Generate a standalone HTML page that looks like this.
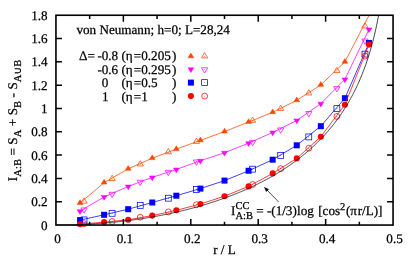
<!DOCTYPE html>
<html><head><meta charset="utf-8"><title>chart</title>
<style>
html,body{margin:0;padding:0;background:#fff;}
body{width:409px;height:257px;overflow:hidden;}
svg{display:block;}
text{font-family:"Liberation Serif",serif;font-size:13.15px;fill:#000;stroke:#000;stroke-width:0.25px;text-rendering:geometricPrecision;}
.sub{font-size:10.52px;}
#wrap{width:409px;height:257px;will-change:transform;background:#fff;}
</style></head><body>
<div id="wrap">
<svg width="409" height="257" viewBox="0 0 409 257">
<rect x="0" y="0" width="409" height="257" fill="#fff"/>
<defs><clipPath id="cp"><rect x="55.95" y="15.25" width="337.1" height="209.8"/></clipPath></defs>

<polyline clip-path="url(#cp)" points="80.03,203.05 104.11,182.65 128.19,168.85 152.26,158.15 176.34,149.15 200.42,140.35 224.50,131.55 248.58,122.05 272.66,112.25 296.74,100.30 320.81,84.90 344.89,61.85 368.97,15.45" fill="none" stroke="#ff4500" stroke-width="0.75" stroke-linejoin="round"/>
<polygon points="77.13,204.50 82.93,204.50 80.03,199.75" fill="#ff4500" stroke="#ff4500" stroke-width="0.5" stroke-linejoin="miter"/>
<polygon points="101.21,184.10 107.01,184.10 104.11,179.35" fill="#ff4500" stroke="#ff4500" stroke-width="0.5" stroke-linejoin="miter"/>
<polygon points="125.29,170.30 131.09,170.30 128.19,165.55" fill="#ff4500" stroke="#ff4500" stroke-width="0.5" stroke-linejoin="miter"/>
<polygon points="149.36,159.60 155.16,159.60 152.26,154.85" fill="#ff4500" stroke="#ff4500" stroke-width="0.5" stroke-linejoin="miter"/>
<polygon points="173.44,150.60 179.24,150.60 176.34,145.85" fill="#ff4500" stroke="#ff4500" stroke-width="0.5" stroke-linejoin="miter"/>
<polygon points="197.52,141.80 203.32,141.80 200.42,137.05" fill="#ff4500" stroke="#ff4500" stroke-width="0.5" stroke-linejoin="miter"/>
<polygon points="221.60,133.00 227.40,133.00 224.50,128.25" fill="#ff4500" stroke="#ff4500" stroke-width="0.5" stroke-linejoin="miter"/>
<polygon points="245.68,123.50 251.48,123.50 248.58,118.75" fill="#ff4500" stroke="#ff4500" stroke-width="0.5" stroke-linejoin="miter"/>
<polygon points="269.76,113.70 275.56,113.70 272.66,108.95" fill="#ff4500" stroke="#ff4500" stroke-width="0.5" stroke-linejoin="miter"/>
<polygon points="293.84,101.75 299.64,101.75 296.74,97.00" fill="#ff4500" stroke="#ff4500" stroke-width="0.5" stroke-linejoin="miter"/>
<polygon points="317.91,86.35 323.71,86.35 320.81,81.60" fill="#ff4500" stroke="#ff4500" stroke-width="0.5" stroke-linejoin="miter"/>
<polygon points="341.99,63.30 347.79,63.30 344.89,58.55" fill="#ff4500" stroke="#ff4500" stroke-width="0.5" stroke-linejoin="miter"/>
<polygon points="80.89,203.15 87.19,203.15 84.04,197.90" fill="none" stroke="#ff4500" stroke-width="0.75"/><circle cx="84.04" cy="201.65" r="0.45" fill="#ff4500"/>
<polygon points="108.98,180.45 115.28,180.45 112.13,175.20" fill="none" stroke="#ff4500" stroke-width="0.75"/><circle cx="112.13" cy="178.95" r="0.45" fill="#ff4500"/>
<polygon points="137.08,165.95 143.38,165.95 140.23,160.70" fill="none" stroke="#ff4500" stroke-width="0.75"/><circle cx="140.23" cy="164.45" r="0.45" fill="#ff4500"/>
<polygon points="165.17,153.75 171.47,153.75 168.32,148.50" fill="none" stroke="#ff4500" stroke-width="0.75"/><circle cx="168.32" cy="152.25" r="0.45" fill="#ff4500"/>
<polygon points="193.26,143.40 199.56,143.40 196.41,138.15" fill="none" stroke="#ff4500" stroke-width="0.75"/><circle cx="196.41" cy="141.90" r="0.45" fill="#ff4500"/>
<polygon points="249.44,122.30 255.74,122.30 252.59,117.05" fill="none" stroke="#ff4500" stroke-width="0.75"/><circle cx="252.59" cy="120.80" r="0.45" fill="#ff4500"/>
<polygon points="277.53,110.45 283.83,110.45 280.68,105.20" fill="none" stroke="#ff4500" stroke-width="0.75"/><circle cx="280.68" cy="108.95" r="0.45" fill="#ff4500"/>
<polygon points="305.63,94.95 311.93,94.95 308.78,89.70" fill="none" stroke="#ff4500" stroke-width="0.75"/><circle cx="308.78" cy="93.45" r="0.45" fill="#ff4500"/>
<polygon points="333.72,72.55 340.02,72.55 336.87,67.30" fill="none" stroke="#ff4500" stroke-width="0.75"/><circle cx="336.87" cy="71.05" r="0.45" fill="#ff4500"/>
<polygon points="361.81,27.95 368.11,27.95 364.96,22.70" fill="none" stroke="#ff4500" stroke-width="0.75"/><circle cx="364.96" cy="26.45" r="0.45" fill="#ff4500"/>
<polyline clip-path="url(#cp)" points="80.03,211.15 104.11,196.95 128.19,186.45 152.26,177.35 176.34,169.45 200.42,160.70 224.50,152.75 248.58,143.10 272.66,132.45 296.74,120.45 320.81,103.65 344.89,79.35 368.97,29.35" fill="none" stroke="#ff00ff" stroke-width="0.75" stroke-linejoin="round"/>
<polygon points="77.13,209.70 82.93,209.70 80.03,214.45" fill="#ff00ff" stroke="#ff00ff" stroke-width="0.5" stroke-linejoin="miter"/>
<polygon points="101.21,195.50 107.01,195.50 104.11,200.25" fill="#ff00ff" stroke="#ff00ff" stroke-width="0.5" stroke-linejoin="miter"/>
<polygon points="125.29,185.00 131.09,185.00 128.19,189.75" fill="#ff00ff" stroke="#ff00ff" stroke-width="0.5" stroke-linejoin="miter"/>
<polygon points="149.36,175.90 155.16,175.90 152.26,180.65" fill="#ff00ff" stroke="#ff00ff" stroke-width="0.5" stroke-linejoin="miter"/>
<polygon points="173.44,168.00 179.24,168.00 176.34,172.75" fill="#ff00ff" stroke="#ff00ff" stroke-width="0.5" stroke-linejoin="miter"/>
<polygon points="197.52,159.25 203.32,159.25 200.42,164.00" fill="#ff00ff" stroke="#ff00ff" stroke-width="0.5" stroke-linejoin="miter"/>
<polygon points="221.60,151.30 227.40,151.30 224.50,156.05" fill="#ff00ff" stroke="#ff00ff" stroke-width="0.5" stroke-linejoin="miter"/>
<polygon points="245.68,141.65 251.48,141.65 248.58,146.40" fill="#ff00ff" stroke="#ff00ff" stroke-width="0.5" stroke-linejoin="miter"/>
<polygon points="269.76,131.00 275.56,131.00 272.66,135.75" fill="#ff00ff" stroke="#ff00ff" stroke-width="0.5" stroke-linejoin="miter"/>
<polygon points="293.84,119.00 299.64,119.00 296.74,123.75" fill="#ff00ff" stroke="#ff00ff" stroke-width="0.5" stroke-linejoin="miter"/>
<polygon points="317.91,102.20 323.71,102.20 320.81,106.95" fill="#ff00ff" stroke="#ff00ff" stroke-width="0.5" stroke-linejoin="miter"/>
<polygon points="341.99,77.90 347.79,77.90 344.89,82.65" fill="#ff00ff" stroke="#ff00ff" stroke-width="0.5" stroke-linejoin="miter"/>
<polygon points="366.07,27.90 371.87,27.90 368.97,32.65" fill="#ff00ff" stroke="#ff00ff" stroke-width="0.5" stroke-linejoin="miter"/>
<polygon points="80.89,207.95 87.19,207.95 84.04,213.20" fill="none" stroke="#ff00ff" stroke-width="0.75"/><circle cx="84.04" cy="209.45" r="0.45" fill="#ff00ff"/>
<polygon points="108.98,192.35 115.28,192.35 112.13,197.60" fill="none" stroke="#ff00ff" stroke-width="0.75"/><circle cx="112.13" cy="193.85" r="0.45" fill="#ff00ff"/>
<polygon points="137.08,180.25 143.38,180.25 140.23,185.50" fill="none" stroke="#ff00ff" stroke-width="0.75"/><circle cx="140.23" cy="181.75" r="0.45" fill="#ff00ff"/>
<polygon points="165.17,170.35 171.47,170.35 168.32,175.60" fill="none" stroke="#ff00ff" stroke-width="0.75"/><circle cx="168.32" cy="171.85" r="0.45" fill="#ff00ff"/>
<polygon points="193.26,160.00 199.56,160.00 196.41,165.25" fill="none" stroke="#ff00ff" stroke-width="0.75"/><circle cx="196.41" cy="161.50" r="0.45" fill="#ff00ff"/>
<polygon points="249.44,140.60 255.74,140.60 252.59,145.85" fill="none" stroke="#ff00ff" stroke-width="0.75"/><circle cx="252.59" cy="142.10" r="0.45" fill="#ff00ff"/>
<polygon points="277.53,127.95 283.83,127.95 280.68,133.20" fill="none" stroke="#ff00ff" stroke-width="0.75"/><circle cx="280.68" cy="129.45" r="0.45" fill="#ff00ff"/>
<polygon points="305.63,111.55 311.93,111.55 308.78,116.80" fill="none" stroke="#ff00ff" stroke-width="0.75"/><circle cx="308.78" cy="113.05" r="0.45" fill="#ff00ff"/>
<polygon points="333.72,86.65 340.02,86.65 336.87,91.90" fill="none" stroke="#ff00ff" stroke-width="0.75"/><circle cx="336.87" cy="88.15" r="0.45" fill="#ff00ff"/>
<polygon points="361.81,39.05 368.11,39.05 364.96,44.30" fill="none" stroke="#ff00ff" stroke-width="0.75"/><circle cx="364.96" cy="40.55" r="0.45" fill="#ff00ff"/>
<polyline clip-path="url(#cp)" points="80.03,220.10 104.11,214.80 128.19,209.20 152.26,202.50 176.34,195.70 200.42,188.60 224.50,180.60 248.58,170.75 272.66,159.70 296.74,145.30 320.81,126.20 344.89,98.20 368.97,43.00" fill="none" stroke="#0000ff" stroke-width="0.75" stroke-linejoin="round"/>
<rect x="77.03" y="217.10" width="6.0" height="6.0" fill="#0000ff"/>
<rect x="101.11" y="211.80" width="6.0" height="6.0" fill="#0000ff"/>
<rect x="125.19" y="206.20" width="6.0" height="6.0" fill="#0000ff"/>
<rect x="149.26" y="199.50" width="6.0" height="6.0" fill="#0000ff"/>
<rect x="173.34" y="192.70" width="6.0" height="6.0" fill="#0000ff"/>
<rect x="197.42" y="185.60" width="6.0" height="6.0" fill="#0000ff"/>
<rect x="221.50" y="177.60" width="6.0" height="6.0" fill="#0000ff"/>
<rect x="245.58" y="167.75" width="6.0" height="6.0" fill="#0000ff"/>
<rect x="269.66" y="156.70" width="6.0" height="6.0" fill="#0000ff"/>
<rect x="293.74" y="142.30" width="6.0" height="6.0" fill="#0000ff"/>
<rect x="317.81" y="123.20" width="6.0" height="6.0" fill="#0000ff"/>
<rect x="341.89" y="95.20" width="6.0" height="6.0" fill="#0000ff"/>
<rect x="365.97" y="40.00" width="6.0" height="6.0" fill="#0000ff"/>
<rect x="81.09" y="216.95" width="5.9" height="5.9" fill="none" stroke="#0000ff" stroke-width="0.75"/><circle cx="84.04" cy="219.90" r="0.45" fill="#0000ff"/>
<rect x="109.18" y="210.35" width="5.9" height="5.9" fill="none" stroke="#0000ff" stroke-width="0.75"/><circle cx="112.13" cy="213.30" r="0.45" fill="#0000ff"/>
<rect x="137.28" y="202.45" width="5.9" height="5.9" fill="none" stroke="#0000ff" stroke-width="0.75"/><circle cx="140.23" cy="205.40" r="0.45" fill="#0000ff"/>
<rect x="165.37" y="195.25" width="5.9" height="5.9" fill="none" stroke="#0000ff" stroke-width="0.75"/><circle cx="168.32" cy="198.20" r="0.45" fill="#0000ff"/>
<rect x="193.46" y="186.60" width="5.9" height="5.9" fill="none" stroke="#0000ff" stroke-width="0.75"/><circle cx="196.41" cy="189.55" r="0.45" fill="#0000ff"/>
<rect x="249.64" y="166.20" width="5.9" height="5.9" fill="none" stroke="#0000ff" stroke-width="0.75"/><circle cx="252.59" cy="169.15" r="0.45" fill="#0000ff"/>
<rect x="277.73" y="152.45" width="5.9" height="5.9" fill="none" stroke="#0000ff" stroke-width="0.75"/><circle cx="280.68" cy="155.40" r="0.45" fill="#0000ff"/>
<rect x="305.83" y="133.95" width="5.9" height="5.9" fill="none" stroke="#0000ff" stroke-width="0.75"/><circle cx="308.78" cy="136.90" r="0.45" fill="#0000ff"/>
<rect x="333.92" y="105.65" width="5.9" height="5.9" fill="none" stroke="#0000ff" stroke-width="0.75"/><circle cx="336.87" cy="108.60" r="0.45" fill="#0000ff"/>
<rect x="362.01" y="51.15" width="5.9" height="5.9" fill="none" stroke="#0000ff" stroke-width="0.75"/><circle cx="364.96" cy="54.10" r="0.45" fill="#0000ff"/>
<polyline clip-path="url(#cp)" points="80.03,224.25 104.11,222.10 128.19,219.80 152.26,215.60 176.34,210.30 200.42,204.00 224.50,196.20 248.58,186.40 272.66,173.40 296.74,158.40 320.81,136.70 344.89,104.70 368.97,44.60" fill="none" stroke="#ff0000" stroke-width="0.75" stroke-linejoin="round"/>
<circle cx="80.03" cy="224.25" r="3.05" fill="#ff0000"/>
<circle cx="104.11" cy="222.10" r="3.05" fill="#ff0000"/>
<circle cx="128.19" cy="219.80" r="3.05" fill="#ff0000"/>
<circle cx="152.26" cy="215.60" r="3.05" fill="#ff0000"/>
<circle cx="176.34" cy="210.30" r="3.05" fill="#ff0000"/>
<circle cx="200.42" cy="204.00" r="3.05" fill="#ff0000"/>
<circle cx="224.50" cy="196.20" r="3.05" fill="#ff0000"/>
<circle cx="248.58" cy="186.40" r="3.05" fill="#ff0000"/>
<circle cx="272.66" cy="173.40" r="3.05" fill="#ff0000"/>
<circle cx="296.74" cy="158.40" r="3.05" fill="#ff0000"/>
<circle cx="320.81" cy="136.70" r="3.05" fill="#ff0000"/>
<circle cx="344.89" cy="104.70" r="3.05" fill="#ff0000"/>
<circle cx="368.97" cy="44.60" r="3.05" fill="#ff0000"/>
<circle cx="84.04" cy="223.70" r="2.95" fill="none" stroke="#ff0000" stroke-width="0.75"/><circle cx="84.04" cy="223.70" r="0.45" fill="#ff0000"/>
<circle cx="112.13" cy="221.50" r="2.95" fill="none" stroke="#ff0000" stroke-width="0.75"/><circle cx="112.13" cy="221.50" r="0.45" fill="#ff0000"/>
<circle cx="140.23" cy="217.20" r="2.95" fill="none" stroke="#ff0000" stroke-width="0.75"/><circle cx="140.23" cy="217.20" r="0.45" fill="#ff0000"/>
<circle cx="168.32" cy="211.90" r="2.95" fill="none" stroke="#ff0000" stroke-width="0.75"/><circle cx="168.32" cy="211.90" r="0.45" fill="#ff0000"/>
<circle cx="196.41" cy="204.80" r="2.95" fill="none" stroke="#ff0000" stroke-width="0.75"/><circle cx="196.41" cy="204.80" r="0.45" fill="#ff0000"/>
<circle cx="252.59" cy="184.50" r="2.95" fill="none" stroke="#ff0000" stroke-width="0.75"/><circle cx="252.59" cy="184.50" r="0.45" fill="#ff0000"/>
<circle cx="280.68" cy="168.70" r="2.95" fill="none" stroke="#ff0000" stroke-width="0.75"/><circle cx="280.68" cy="168.70" r="0.45" fill="#ff0000"/>
<circle cx="308.78" cy="148.20" r="2.95" fill="none" stroke="#ff0000" stroke-width="0.75"/><circle cx="308.78" cy="148.20" r="0.45" fill="#ff0000"/>
<circle cx="336.87" cy="116.40" r="2.95" fill="none" stroke="#ff0000" stroke-width="0.75"/><circle cx="336.87" cy="116.40" r="0.45" fill="#ff0000"/>
<circle cx="364.96" cy="56.10" r="2.95" fill="none" stroke="#ff0000" stroke-width="0.75"/><circle cx="364.96" cy="56.10" r="0.45" fill="#ff0000"/>
<polyline clip-path="url(#cp)" points="55.95,225.05 56.49,225.05 57.03,225.05 57.57,225.05 58.11,225.05 58.64,225.04 59.18,225.04 59.72,225.04 60.26,225.03 60.80,225.03 61.34,225.03 61.88,225.02 62.42,225.01 62.95,225.01 63.49,225.00 64.03,224.99 64.57,224.99 65.11,224.98 65.65,224.97 66.19,224.96 66.73,224.95 67.26,224.94 67.80,224.93 68.34,224.92 68.88,224.91 69.42,224.90 69.96,224.88 70.50,224.87 71.04,224.86 71.58,224.84 72.11,224.83 72.65,224.81 73.19,224.80 73.73,224.78 74.27,224.77 74.81,224.75 75.35,224.73 75.89,224.71 76.42,224.70 76.96,224.68 77.50,224.66 78.04,224.64 78.58,224.62 79.12,224.60 79.66,224.57 80.20,224.55 80.73,224.53 81.27,224.51 81.81,224.48 82.35,224.46 82.89,224.44 83.43,224.41 83.97,224.39 84.51,224.36 85.05,224.33 85.58,224.31 86.12,224.28 86.66,224.25 87.20,224.22 87.74,224.19 88.28,224.17 88.82,224.14 89.36,224.10 89.89,224.07 90.43,224.04 90.97,224.01 91.51,223.98 92.05,223.95 92.59,223.91 93.13,223.88 93.67,223.84 94.20,223.81 94.74,223.77 95.28,223.74 95.82,223.70 96.36,223.66 96.90,223.63 97.44,223.59 97.98,223.55 98.52,223.51 99.05,223.47 99.59,223.43 100.13,223.39 100.67,223.35 101.21,223.31 101.75,223.27 102.29,223.22 102.83,223.18 103.36,223.14 103.90,223.09 104.44,223.05 104.98,223.00 105.52,222.96 106.06,222.91 106.60,222.87 107.14,222.82 107.67,222.77 108.21,222.72 108.75,222.67 109.29,222.62 109.83,222.57 110.37,222.52 110.91,222.47 111.45,222.42 111.99,222.37 112.52,222.32 113.06,222.27 113.60,222.21 114.14,222.16 114.68,222.10 115.22,222.05 115.76,221.99 116.30,221.94 116.83,221.88 117.37,221.82 117.91,221.77 118.45,221.71 118.99,221.65 119.53,221.59 120.07,221.53 120.61,221.47 121.14,221.41 121.68,221.35 122.22,221.28 122.76,221.22 123.30,221.16 123.84,221.10 124.38,221.03 124.92,220.97 125.45,220.90 125.99,220.84 126.53,220.77 127.07,220.70 127.61,220.64 128.15,220.57 128.69,220.50 129.23,220.43 129.77,220.36 130.30,220.29 130.84,220.22 131.38,220.15 131.92,220.08 132.46,220.00 133.00,219.93 133.54,219.86 134.08,219.78 134.61,219.71 135.15,219.63 135.69,219.56 136.23,219.48 136.77,219.40 137.31,219.33 137.85,219.25 138.39,219.17 138.92,219.09 139.46,219.01 140.00,218.93 140.54,218.85 141.08,218.77 141.62,218.69 142.16,218.60 142.70,218.52 143.24,218.44 143.77,218.35 144.31,218.27 144.85,218.18 145.39,218.10 145.93,218.01 146.47,217.92 147.01,217.83 147.55,217.75 148.08,217.66 148.62,217.57 149.16,217.48 149.70,217.39 150.24,217.30 150.78,217.20 151.32,217.11 151.86,217.02 152.39,216.92 152.93,216.83 153.47,216.73 154.01,216.64 154.55,216.54 155.09,216.45 155.63,216.35 156.17,216.25 156.71,216.15 157.24,216.05 157.78,215.95 158.32,215.85 158.86,215.75 159.40,215.65 159.94,215.55 160.48,215.44 161.02,215.34 161.55,215.24 162.09,215.13 162.63,215.03 163.17,214.92 163.71,214.81 164.25,214.70 164.79,214.60 165.33,214.49 165.86,214.38 166.40,214.27 166.94,214.16 167.48,214.05 168.02,213.93 168.56,213.82 169.10,213.71 169.64,213.60 170.18,213.48 170.71,213.37 171.25,213.25 171.79,213.13 172.33,213.02 172.87,212.90 173.41,212.78 173.95,212.66 174.49,212.54 175.02,212.42 175.56,212.30 176.10,212.18 176.64,212.05 177.18,211.93 177.72,211.81 178.26,211.68 178.80,211.56 179.33,211.43 179.87,211.30 180.41,211.18 180.95,211.05 181.49,210.92 182.03,210.79 182.57,210.66 183.11,210.53 183.65,210.40 184.18,210.26 184.72,210.13 185.26,210.00 185.80,209.86 186.34,209.73 186.88,209.59 187.42,209.45 187.96,209.32 188.49,209.18 189.03,209.04 189.57,208.90 190.11,208.76 190.65,208.62 191.19,208.48 191.73,208.33 192.27,208.19 192.80,208.05 193.34,207.90 193.88,207.76 194.42,207.61 194.96,207.46 195.50,207.31 196.04,207.17 196.58,207.02 197.12,206.87 197.65,206.71 198.19,206.56 198.73,206.41 199.27,206.26 199.81,206.10 200.35,205.95 200.89,205.79 201.43,205.63 201.96,205.48 202.50,205.32 203.04,205.16 203.58,205.00 204.12,204.84 204.66,204.68 205.20,204.52 205.74,204.35 206.27,204.19 206.81,204.02 207.35,203.86 207.89,203.69 208.43,203.52 208.97,203.35 209.51,203.19 210.05,203.02 210.59,202.84 211.12,202.67 211.66,202.50 212.20,202.33 212.74,202.15 213.28,201.98 213.82,201.80 214.36,201.62 214.90,201.45 215.43,201.27 215.97,201.09 216.51,200.91 217.05,200.73 217.59,200.54 218.13,200.36 218.67,200.18 219.21,199.99 219.74,199.80 220.28,199.62 220.82,199.43 221.36,199.24 221.90,199.05 222.44,198.86 222.98,198.67 223.52,198.47 224.06,198.28 224.59,198.09 225.13,197.89 225.67,197.69 226.21,197.50 226.75,197.30 227.29,197.10 227.83,196.90 228.37,196.69 228.90,196.49 229.44,196.29 229.98,196.08 230.52,195.88 231.06,195.67 231.60,195.46 232.14,195.25 232.68,195.04 233.21,194.83 233.75,194.62 234.29,194.41 234.83,194.19 235.37,193.98 235.91,193.76 236.45,193.54 236.99,193.33 237.52,193.11 238.06,192.88 238.60,192.66 239.14,192.44 239.68,192.22 240.22,191.99 240.76,191.76 241.30,191.54 241.84,191.31 242.37,191.08 242.91,190.85 243.45,190.61 243.99,190.38 244.53,190.14 245.07,189.91 245.61,189.67 246.15,189.43 246.68,189.19 247.22,188.95 247.76,188.71 248.30,188.47 248.84,188.22 249.38,187.98 249.92,187.73 250.46,187.48 250.99,187.23 251.53,186.98 252.07,186.73 252.61,186.47 253.15,186.22 253.69,185.96 254.23,185.71 254.77,185.45 255.31,185.19 255.84,184.92 256.38,184.66 256.92,184.40 257.46,184.13 258.00,183.86 258.54,183.59 259.08,183.32 259.62,183.05 260.15,182.78 260.69,182.51 261.23,182.23 261.77,181.95 262.31,181.67 262.85,181.39 263.39,181.11 263.93,180.83 264.46,180.54 265.00,180.26 265.54,179.97 266.08,179.68 266.62,179.39 267.16,179.10 267.70,178.80 268.24,178.51 268.78,178.21 269.31,177.91 269.85,177.61 270.39,177.31 270.93,177.00 271.47,176.70 272.01,176.39 272.55,176.08 273.09,175.77 273.62,175.45 274.16,175.14 274.70,174.82 275.24,174.51 275.78,174.19 276.32,173.86 276.86,173.54 277.40,173.22 277.93,172.89 278.47,172.56 279.01,172.23 279.55,171.90 280.09,171.56 280.63,171.22 281.17,170.89 281.71,170.54 282.25,170.20 282.78,169.86 283.32,169.51 283.86,169.16 284.40,168.81 284.94,168.46 285.48,168.10 286.02,167.75 286.56,167.39 287.09,167.03 287.63,166.66 288.17,166.30 288.71,165.93 289.25,165.56 289.79,165.19 290.33,164.81 290.87,164.43 291.40,164.05 291.94,163.67 292.48,163.29 293.02,162.90 293.56,162.51 294.10,162.12 294.64,161.73 295.18,161.33 295.72,160.93 296.25,160.53 296.79,160.13 297.33,159.72 297.87,159.31 298.41,158.90 298.95,158.48 299.49,158.07 300.03,157.65 300.56,157.22 301.10,156.80 301.64,156.37 302.18,155.94 302.72,155.50 303.26,155.07 303.80,154.63 304.34,154.18 304.87,153.74 305.41,153.29 305.95,152.83 306.49,152.38 307.03,151.92 307.57,151.46 308.11,150.99 308.65,150.52 309.19,150.05 309.72,149.58 310.26,149.10 310.80,148.62 311.34,148.13 311.88,147.64 312.42,147.15 312.96,146.65 313.50,146.15 314.03,145.65 314.57,145.14 315.11,144.63 315.65,144.11 316.19,143.60 316.73,143.07 317.27,142.54 317.81,142.01 318.34,141.48 318.88,140.94 319.42,140.39 319.96,139.85 320.50,139.29 321.04,138.74 321.58,138.17 322.12,137.61 322.66,137.04 323.19,136.46 323.73,135.88 324.27,135.30 324.81,134.71 325.35,134.11 325.89,133.51 326.43,132.90 326.97,132.29 327.50,131.68 328.04,131.06 328.58,130.43 329.12,129.80 329.66,129.16 330.20,128.51 330.74,127.86 331.28,127.21 331.81,126.55 332.35,125.88 332.89,125.20 333.43,124.52 333.97,123.84 334.51,123.14 335.05,122.44 335.59,121.73 336.13,121.02 336.66,120.30 337.20,119.57 337.74,118.83 338.28,118.09 338.82,117.34 339.36,116.58 339.90,115.81 340.44,115.03 340.97,114.25 341.51,113.46 342.05,112.66 342.59,111.85 343.13,111.03 343.67,110.20 344.21,109.36 344.75,108.51 345.28,107.66 345.82,106.79 346.36,105.91 346.90,105.03 347.44,104.13 347.98,103.22 348.52,102.30 349.06,101.36 349.60,100.42 350.13,99.46 350.67,98.49 351.21,97.51 351.75,96.52 352.29,95.51 352.83,94.49 353.37,93.45 353.91,92.40 354.44,91.34 354.98,90.26 355.52,89.16 356.06,88.05 356.60,86.92 357.14,85.77 357.68,84.61 358.22,83.43 358.75,82.23 359.29,81.01 359.83,79.77 360.37,78.51 360.91,77.22 361.45,75.92 361.99,74.59 362.53,73.24 363.06,71.87 363.60,70.47 364.14,69.04 364.68,67.59 365.22,66.11 365.76,64.60 366.30,63.06 366.84,61.48 367.38,59.88 367.91,58.24 368.45,56.56 368.99,54.85 369.53,53.09 370.07,51.30 370.61,49.46 371.15,47.58 371.69,45.65 372.22,43.67 372.76,41.64 373.30,39.56 373.84,37.42 374.38,35.21 374.92,32.94 375.46,30.60 376.00,28.19 376.53,25.70 377.07,23.13 377.61,20.47 378.15,17.71 378.69,14.85 379.23,11.89" fill="none" stroke="#000" stroke-width="0.75"/>
<g stroke="#000" stroke-width="1.6" fill="none" stroke-linecap="butt">
<rect x="55.95" y="15.25" width="337.1" height="209.8"/>
<path d="M55.95 201.74h6 M393.05 201.74h-6" stroke-width="1.5"/>
<path d="M55.95 178.43h6 M393.05 178.43h-6" stroke-width="1.5"/>
<path d="M55.95 155.12h6 M393.05 155.12h-6" stroke-width="1.5"/>
<path d="M55.95 131.81h6 M393.05 131.81h-6" stroke-width="1.5"/>
<path d="M55.95 108.49h6 M393.05 108.49h-6" stroke-width="1.5"/>
<path d="M55.95 85.18h6 M393.05 85.18h-6" stroke-width="1.5"/>
<path d="M55.95 61.87h6 M393.05 61.87h-6" stroke-width="1.5"/>
<path d="M55.95 38.56h6 M393.05 38.56h-6" stroke-width="1.5"/>
<path d="M89.66 225.05v-3.2 M89.66 15.25v3.8" stroke-width="1.5"/>
<path d="M123.37 225.05v-6 M123.37 15.25v6.5" stroke-width="1.5"/>
<path d="M157.08 225.05v-3.2 M157.08 15.25v3.8" stroke-width="1.5"/>
<path d="M190.79 225.05v-6 M190.79 15.25v6.5" stroke-width="1.5"/>
<path d="M224.50 225.05v-3.2 M224.50 15.25v3.8" stroke-width="1.5"/>
<path d="M258.21 225.05v-6 M258.21 15.25v6.5" stroke-width="1.5"/>
<path d="M291.92 225.05v-3.2 M291.92 15.25v3.8" stroke-width="1.5"/>
<path d="M325.63 225.05v-6 M325.63 15.25v6.5" stroke-width="1.5"/>
<path d="M359.34 225.05v-3.2 M359.34 15.25v3.8" stroke-width="1.5"/>
</g>
<text x="47.6" y="229.65" text-anchor="end">0</text>
<text x="47.6" y="206.34" text-anchor="end">0.2</text>
<text x="47.6" y="183.03" text-anchor="end">0.4</text>
<text x="47.6" y="159.72" text-anchor="end">0.6</text>
<text x="47.6" y="136.41" text-anchor="end">0.8</text>
<text x="47.6" y="113.09" text-anchor="end">1</text>
<text x="47.6" y="89.78" text-anchor="end">1.2</text>
<text x="47.6" y="66.47" text-anchor="end">1.4</text>
<text x="47.6" y="43.16" text-anchor="end">1.6</text>
<text x="47.6" y="19.85" text-anchor="end">1.8</text>
<text x="57.45" y="243.4" text-anchor="middle">0</text>
<text x="124.87" y="243.4" text-anchor="middle">0.1</text>
<text x="192.29" y="243.4" text-anchor="middle">0.2</text>
<text x="259.71" y="243.4" text-anchor="middle">0.3</text>
<text x="327.13" y="243.4" text-anchor="middle">0.4</text>
<text x="394.55" y="243.4" text-anchor="middle">0.5</text>
<text x="224.5" y="254.3" text-anchor="middle">r / L</text>
<text transform="translate(17.3,120.4) rotate(-90)" text-anchor="middle" style="letter-spacing:0.085px">I<tspan class="sub" dy="4">A:B</tspan><tspan dy="-4"> = S</tspan><tspan class="sub" dy="4">A</tspan><tspan dy="-4"> + S</tspan><tspan class="sub" dy="4">B</tspan><tspan dy="-4"> - S</tspan><tspan class="sub" dy="4">A∪B</tspan></text>
<text x="76.4" y="33.7">von Neumann; h=0; L=28,24</text>
<text y="60.00"><tspan x="79.00">Δ=</tspan><tspan x="97.40">-0.8</tspan><tspan x="121.40">(η</tspan><tspan x="133.80">=0.205</tspan><tspan x="171.90">)</tspan></text>
<text y="73.60"><tspan x="97.40">-0.6</tspan><tspan x="121.40">(η</tspan><tspan x="133.80">=0.295</tspan><tspan x="171.90">)</tspan></text>
<text y="87.00"><tspan x="101.80">0</tspan><tspan x="121.40">(η</tspan><tspan x="133.80">=0.5</tspan><tspan x="171.90">)</tspan></text>
<text y="100.50"><tspan x="102.10">1</tspan><tspan x="121.40">(η</tspan><tspan x="133.80">=1</tspan><tspan x="171.90">)</tspan></text>
<polygon points="188.00,57.85 193.80,57.85 190.90,53.10" fill="#ff4500" stroke="#ff4500" stroke-width="0.5" stroke-linejoin="miter"/>
<polygon points="201.45,57.90 207.75,57.90 204.60,52.65" fill="none" stroke="#ff4500" stroke-width="0.75"/><circle cx="204.60" cy="56.40" r="0.45" fill="#ff4500"/>
<polygon points="188.00,67.80 193.80,67.80 190.90,72.55" fill="#ff00ff" stroke="#ff00ff" stroke-width="0.5" stroke-linejoin="miter"/>
<polygon points="201.45,67.75 207.75,67.75 204.60,73.00" fill="none" stroke="#ff00ff" stroke-width="0.75"/><circle cx="204.60" cy="69.25" r="0.45" fill="#ff00ff"/>
<rect x="187.90" y="79.60" width="6.0" height="6.0" fill="#0000ff"/>
<rect x="201.65" y="79.65" width="5.9" height="5.9" fill="none" stroke="#0000ff" stroke-width="0.75"/><circle cx="204.60" cy="82.60" r="0.45" fill="#0000ff"/>
<circle cx="190.90" cy="96.10" r="3.05" fill="#ff0000"/>
<circle cx="204.60" cy="96.10" r="2.95" fill="none" stroke="#ff0000" stroke-width="0.75"/><circle cx="204.60" cy="96.10" r="0.45" fill="#ff0000"/>
<text y="215.0"><tspan x="231.0">I</tspan><tspan class="sub" x="235.5" y="208.90">CC</tspan><tspan class="sub" x="235.4" y="218.60">A:B</tspan><tspan x="256.2" y="215.0">= -(1/3)</tspan><tspan x="297.0" y="215.0">log</tspan><tspan x="318.2" y="215.0">[cos</tspan><tspan class="sub" x="340.0" y="209.70">2</tspan><tspan x="345.9" y="215.0">(π</tspan><tspan x="357.7" y="215.0">r/L)]</tspan></text>
<path d="M278.7 202.0L264.6 187.6" stroke="#000" stroke-width="0.7" fill="none"/>
<polygon points="264.6,187.6 268.54,189.32 266.24,191.58" fill="#000" stroke="#000" stroke-width="0.5"/>
</svg>
</div></body></html>
